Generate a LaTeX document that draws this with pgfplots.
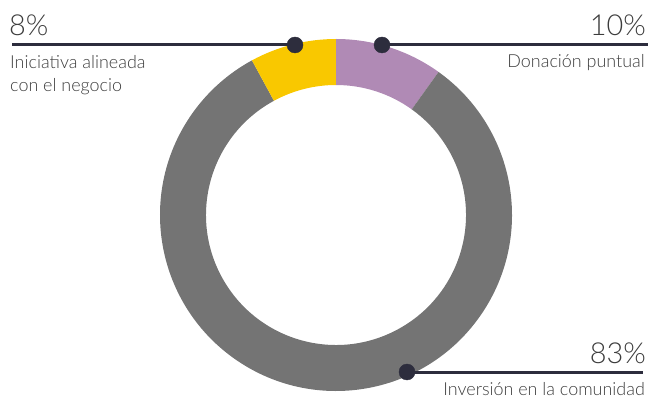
\documentclass[border=0pt]{standalone}
\usepackage{pgfplots}
\pgfplotsset{compat=1.18}
\usepackage{pgfplotstable}
\usepackage{fontspec}
\setmainfont{Lato}[UprightFont={* Light}]
\definecolor{cgray}{HTML}{747474}
\definecolor{cyellow}{HTML}{F9C800}
\definecolor{cpurple}{HTML}{B08AB5}
\definecolor{cdark}{HTML}{2D2D3D}
\definecolor{ctext}{HTML}{3C3C3C}
\pgfplotstableread{
label value
Donacion 10
Inversion 83
Iniciativa 8
}\donut
\begin{document}
\begin{tikzpicture}
\begin{axis}[
  width=648bp, height=403bp, scale only axis,
  xmin=0, xmax=648, ymin=0, ymax=403,
  hide axis, clip=false,
]
\coordinate (ll) at (axis cs:0,0);
\coordinate (ur) at (axis cs:648,403);
% donut slices from the table values
\pgfplotstablegetelem{0}{value}\of\donut \let\va\pgfplotsretval
\pgfplotstablegetelem{1}{value}\of\donut \let\vb\pgfplotsretval
\pgfplotstablegetelem{2}{value}\of\donut \let\vc\pgfplotsretval
\pgfmathsetmacro{\tot}{\va+\vb+\vc}
\pgfmathsetmacro{\aA}{90}
\pgfmathsetmacro{\aB}{90-(\va/\tot)*360}
\pgfmathsetmacro{\aC}{\aB-(\vb/\tot)*360}
\pgfmathsetmacro{\aD}{\aC-(\vc/\tot)*360}
\def\R{176bp}\def\r{130bp}
\fill[cpurple] ([shift={(\aA:\R)}]axis cs:336,188) arc[start angle=\aA,end angle=\aB,radius=\R]
  -- ([shift={(\aB:\r)}]axis cs:336,188) arc[start angle=\aB,end angle=\aA,radius=\r] -- cycle;
\fill[cgray] ([shift={(\aB:\R)}]axis cs:336,188) arc[start angle=\aB,end angle=\aC,radius=\R]
  -- ([shift={(\aC:\r)}]axis cs:336,188) arc[start angle=\aC,end angle=\aB,radius=\r] -- cycle;
\fill[cyellow] ([shift={(\aC:\R)}]axis cs:336,188) arc[start angle=\aC,end angle=\aD,radius=\R]
  -- ([shift={(\aD:\r)}]axis cs:336,188) arc[start angle=\aD,end angle=\aC,radius=\r] -- cycle;
% leader lines
\addplot[cdark, line width=3bp, mark=none] coordinates {(12,358) (295,358)};
\addplot[cdark, line width=3bp, mark=none] coordinates {(382,358) (648,358)};
\addplot[cdark, line width=3bp, mark=none] coordinates {(407,31) (643,31)};
\addplot[only marks, mark=*, mark size=8bp, cdark] coordinates {(295,358) (382,358) (407,31)};
% labels
\node[anchor=base west, inner sep=0, text=ctext, font=\fontsize{29}{30}\selectfont] at (axis cs:9,367) {8\%};
\node[anchor=base west, inner sep=0, text=ctext, font=\fontsize{18}{23}\selectfont] at (axis cs:10,334) {Iniciativa alineada};
\node[anchor=base west, inner sep=0, text=ctext, font=\fontsize{18}{23}\selectfont] at (axis cs:10,311) {con el negocio};
\node[anchor=base east, inner sep=0, text=ctext, font=\fontsize{29}{30}\selectfont] at (axis cs:646,367) {10\%};
\node[anchor=base east, inner sep=0, text=ctext, font=\fontsize{18}{23}\selectfont] at (axis cs:645,335) {Donación puntual};
\node[anchor=base east, inner sep=0, text=ctext, font=\fontsize{29}{30}\selectfont] at (axis cs:646,40) {83\%};
\node[anchor=base east, inner sep=0, text=ctext, font=\fontsize{18}{23}\selectfont] at (axis cs:645,8) {Inversión en la comunidad};
\end{axis}
\pgfresetboundingbox
\useasboundingbox (ll) rectangle (ur);
\end{tikzpicture}
\end{document}
